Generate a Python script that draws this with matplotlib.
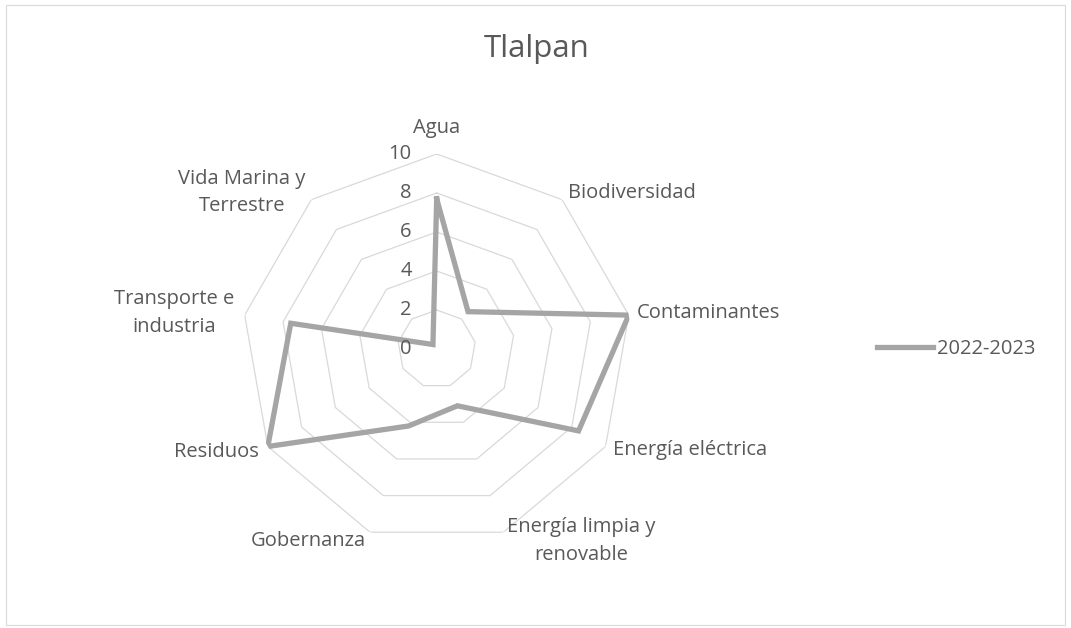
import numpy as np
import matplotlib
matplotlib.use("Agg")
import matplotlib.pyplot as plt
from matplotlib.patches import Rectangle

plt.rcParams["font.family"] = ["Open Sans", "DejaVu Sans"]

# ─────────────────────────────────────────────
# Data
# ─────────────────────────────────────────────
title = "Tlalpan"
series_name = "2022-2023"
categories = [
    "Agua",
    "Biodiversidad",
    "Contaminantes",
    "Energía eléctrica",
    "Energía limpia y\nrenovable",
    "Gobernanza",
    "Residuos",
    "Transporte e\nindustria",
    "Vida Marina y\nTerrestre",
]
values = [7.7, 2.5, 10, 8.4, 3.1, 4.2, 10, 7.6, 0.3]
ring_ticks = [2, 4, 6, 8, 10]
tick_labels = [0, 2, 4, 6, 8, 10]

# label placement (offset in pixels from the outer ring vertex, alignment)
label_style = [
    ((0, 26), "center"),
    ((6, 7), "left"),
    ((8, 2), "left"),
    ((7, -4), "left"),
    ((4, -9), "left"),
    ((-4, -9), "right"),
    ((-9, -5), "right"),
    ((-10, 2), "right"),
    ((-6, 7), "right"),
]

TEXT = "#595959"
GRID = "#D9D9D9"
LINE = "#A5A5A5"
FS = 14.5

# ─────────────────────────────────────────────
# Figure
# ─────────────────────────────────────────────
W, H = 1071, 628
fig = plt.figure(figsize=(W / 100, H / 100), dpi=100)
fig.patch.set_facecolor("white")

# chart border
fig.add_artist(Rectangle((5.5 / W, 3.5 / H), 1059 / W, 620 / H,
                         transform=fig.transFigure, fill=False,
                         edgecolor=GRID, linewidth=0.8))

fig.text(536.5 / W, 1 - 49 / H, title, ha="center", va="center",
         fontsize=22.5, color=TEXT)

cx, cy, R = 436.7, 349, 195
ax = fig.add_axes([(cx - R) / W, (H - cy - R) / H, 2 * R / W, 2 * R / H],
                  projection="polar")
ax.set_theta_offset(np.pi / 2)
ax.set_theta_direction(-1)
ax.set_ylim(0, 10)
ax.grid(False)
ax.spines["polar"].set_visible(False)
ax.set_xticks([])
ax.set_yticks([])
ax.patch.set_visible(False)

n = len(categories)
theta = np.linspace(0, 2 * np.pi, n, endpoint=False)
theta_c = np.append(theta, theta[0])

for r in ring_ticks:
    ax.plot(theta_c, [r] * (n + 1), color=GRID, linewidth=0.9, zorder=1)

vals_c = np.append(values, values[0])
line, = ax.plot(theta_c, vals_c, color=LINE, linewidth=3.8,
                solid_joinstyle="miter", zorder=3, label=series_name)

for t in tick_labels:
    ax.annotate(str(t), xy=(0, t), xytext=(-25, 0), textcoords="offset pixels",
                ha="right", va="center", fontsize=FS, color=TEXT,
                annotation_clip=False)

for th, lab, (off, ha) in zip(theta, categories, label_style):
    ax.annotate(lab, xy=(th, 10), xytext=off, textcoords="offset pixels",
                ha=ha, va="center", multialignment="center",
                fontsize=FS, color=TEXT, annotation_clip=False,
                linespacing=1.5)

fig.legend(handles=[line], labels=[series_name], loc="center left",
           bbox_to_anchor=(877 / W, 1 - 349 / H), frameon=False,
           fontsize=FS, labelcolor=TEXT, handlelength=2.8,
           handletextpad=0.2, borderpad=0, borderaxespad=0)

fig.savefig("out.png", dpi=100)
